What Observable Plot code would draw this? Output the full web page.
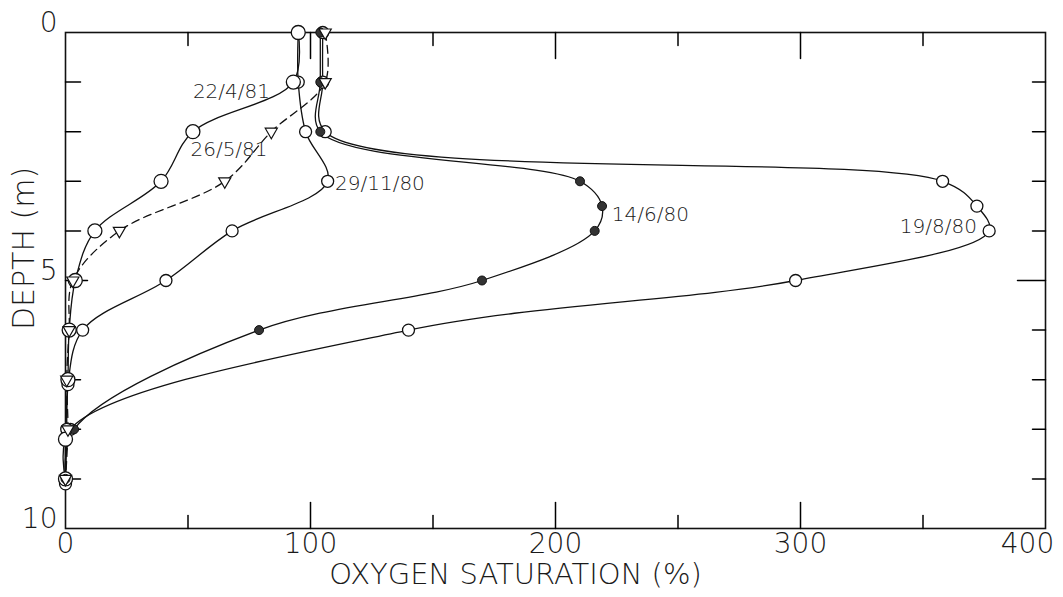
<!DOCTYPE html>
<html>
<head>
<meta charset="utf-8">
<script src="https://cdn.jsdelivr.net/npm/d3@7"></script>
<script src="https://cdn.jsdelivr.net/npm/@observablehq/plot@0.6"></script>
<style>
  html, body { margin: 0; padding: 0; background: #fff; }
  #chart svg { display: block; }
</style>
</head>
<body>
<div id="chart"></div>
<script>
// ---- data ----
const depth_19_8_80 = [0, 1, 2, 3, 3.5, 4, 5, 6, 8, 9];
const sat_19_8_80   = [105, 105, 106, 358, 372, 377, 298, 140, 2, 0];

const depth_14_6_80 = [0, 1, 2, 3, 3.5, 4, 5, 6, 8, 9];
const sat_14_6_80   = [104, 104, 104, 210, 219, 216, 170, 79, 3.5, 0];

const depth_29_11_80 = [0, 1, 2, 3, 4, 5, 6, 7.1, 8, 9.1];
const sat_29_11_80   = [95, 95, 98, 107, 68, 41, 7, 1, 0.5, 0];

const depth_22_4_81 = [0, 1, 2, 3, 4, 5, 6, 7, 8.2, 9];
const sat_22_4_81   = [95, 93, 52, 39, 12, 4, 1.5, 1, 0, 0];

const depth_26_5_81 = [0, 1, 2, 3, 4, 5, 6, 7, 8, 9];
const sat_26_5_81   = [106, 106, 84, 65, 22, 3, 1.5, 0.5, 1, 0];

const labelText  = ["22/4/81", "26/5/81", "29/11/80", "14/6/80", "19/8/80"];
const labelSat   = [52, 51, 110, 223, 372];
const labelDepth = [1.2, 2.37, 3.05, 3.68, 3.91];

const xMinorTicks = [50, 150, 250, 350];
const xMajorTicks = [100, 200, 300];
const xTickLabels = [0, 100, 200, 300, 400];
const yMinorTicks = [1, 2, 3, 4, 6, 7, 8, 9];
const yMajorTicks = [5];
const yTickLabels = [0, 5, 10];

// ---- build tables ----
function rows(name, depths, sats) {
  return depths.map((d, i) => ({series: name, depth: d, sat: sats[i]}));
}
const s19 = rows("19/8/80", depth_19_8_80, sat_19_8_80);
const s14 = rows("14/6/80", depth_14_6_80, sat_14_6_80);
const s29 = rows("29/11/80", depth_29_11_80, sat_29_11_80);
const s22 = rows("22/4/81", depth_22_4_81, sat_22_4_81);
const s26 = rows("26/5/81", depth_26_5_81, sat_26_5_81);
const solid = [...s19, ...s14, ...s29, ...s22];
const labels = labelText.map((t, i) => ({text: t, sat: labelSat[i], depth: labelDepth[i]}));
const labelsLeft = labels.filter(d => d.text !== "19/8/80");
const labelsRight = labels.filter(d => d.text === "19/8/80");

const tickShape = {draw(ctx, l) { ctx.moveTo(0, 0); ctx.lineTo(0, -l); }};
const tk = {anchor: "start", shape: tickShape, stroke: "black", strokeWidth: 1.5};
const FONT = "DejaVu Sans";
const INK = "#1a1a1a";
const txt = {fontWeight: 300, fill: INK};

const chart = Plot.plot({
  width: 1063,
  height: 597,
  marginLeft: 65,
  marginRight: 18,
  marginTop: 32,
  marginBottom: 69,
  style: {fontFamily: FONT, color: INK, background: "#fff"},
  x: {domain: [0, 400], axis: null},
  y: {domain: [0, 10], reverse: true, axis: null},
  marks: [
    Plot.frame({stroke: "#111", strokeWidth: 1.6}),
    // ticks
    Plot.vector(xMinorTicks, {...tk, x: d => d, frameAnchor: "bottom", length: 13, rotate: 0}),
    Plot.vector(xMajorTicks, {...tk, x: d => d, frameAnchor: "bottom", length: 26, rotate: 0}),
    Plot.vector(xMinorTicks, {...tk, x: d => d, frameAnchor: "top", length: 13, rotate: 180}),
    Plot.vector(xMajorTicks, {...tk, x: d => d, frameAnchor: "top", length: 26, rotate: 180}),
    Plot.vector(yMinorTicks, {...tk, y: d => d, frameAnchor: "left", length: 15, rotate: 90}),
    Plot.vector(yMajorTicks, {...tk, y: d => d, frameAnchor: "left", length: 22, rotate: 90}),
    Plot.vector(yMinorTicks, {...tk, y: d => d, frameAnchor: "right", length: 13, rotate: -90}),
    Plot.vector(yMajorTicks, {...tk, y: d => d, frameAnchor: "right", length: 28, rotate: -90}),
    // tick labels
    Plot.text(xTickLabels.filter(d => d < 400), {...txt, x: d => d, frameAnchor: "bottom", dy: 24,
      textAnchor: "middle", text: d => String(d), fontSize: 28}),
    Plot.text(xTickLabels.filter(d => d >= 400), {...txt, x: d => d, frameAnchor: "bottom", dy: 24, dx: -18,
      textAnchor: "middle", text: d => String(d), fontSize: 28}),
    Plot.text(yTickLabels, {...txt, y: d => d, frameAnchor: "left", dx: -8, dy: -9,
      textAnchor: "end", lineAnchor: "middle", text: d => String(d), fontSize: 28}),
    // axis titles
    Plot.text(["OXYGEN SATURATION (%)"], {...txt, frameAnchor: "bottom", dx: -40, dy: 55,
      textAnchor: "middle", text: d => d, fontSize: 29, letterSpacing: "3px"}),
    Plot.text(["DEPTH (m)"], {...txt, frameAnchor: "left", dx: -41, dy: -32, rotate: -90,
      textAnchor: "middle", text: d => d, fontSize: 30, letterSpacing: "3px"}),
    // profiles
    Plot.line(solid, {x: "sat", y: "depth", z: "series", curve: "catmull-rom",
      stroke: "#111", strokeWidth: 1.3}),
    Plot.line(s26, {x: "sat", y: "depth", curve: "catmull-rom",
      stroke: "#111", strokeWidth: 1.3, strokeDasharray: "8,5"}),
    Plot.dot(s19, {x: "sat", y: "depth", r: 6, fill: "white", stroke: "#111", strokeWidth: 1.3}),
    Plot.dot(s29, {x: "sat", y: "depth", r: 6, fill: "white", stroke: "#111", strokeWidth: 1.3}),
    Plot.dot(s22, {x: "sat", y: "depth", r: 7, fill: "white", stroke: "#111", strokeWidth: 1.3}),
    Plot.dot(s14, {x: "sat", y: "depth", r: 4.5, fill: "#333", stroke: "#111", strokeWidth: 1}),
    Plot.dot(s26, {x: "sat", y: "depth", symbol: "triangle", r: 4.5, rotate: 180,
      fill: "white", stroke: "#111", strokeWidth: 1.2}),
    // series labels
    Plot.text(labelsLeft, {...txt, x: "sat", y: "depth", text: "text", textAnchor: "start", fontSize: 20}),
    Plot.text(labelsRight, {...txt, x: "sat", y: "depth", text: "text", textAnchor: "end", fontSize: 20})
  ]
});
document.getElementById("chart").appendChild(chart);
</script>
</body>
</html>
